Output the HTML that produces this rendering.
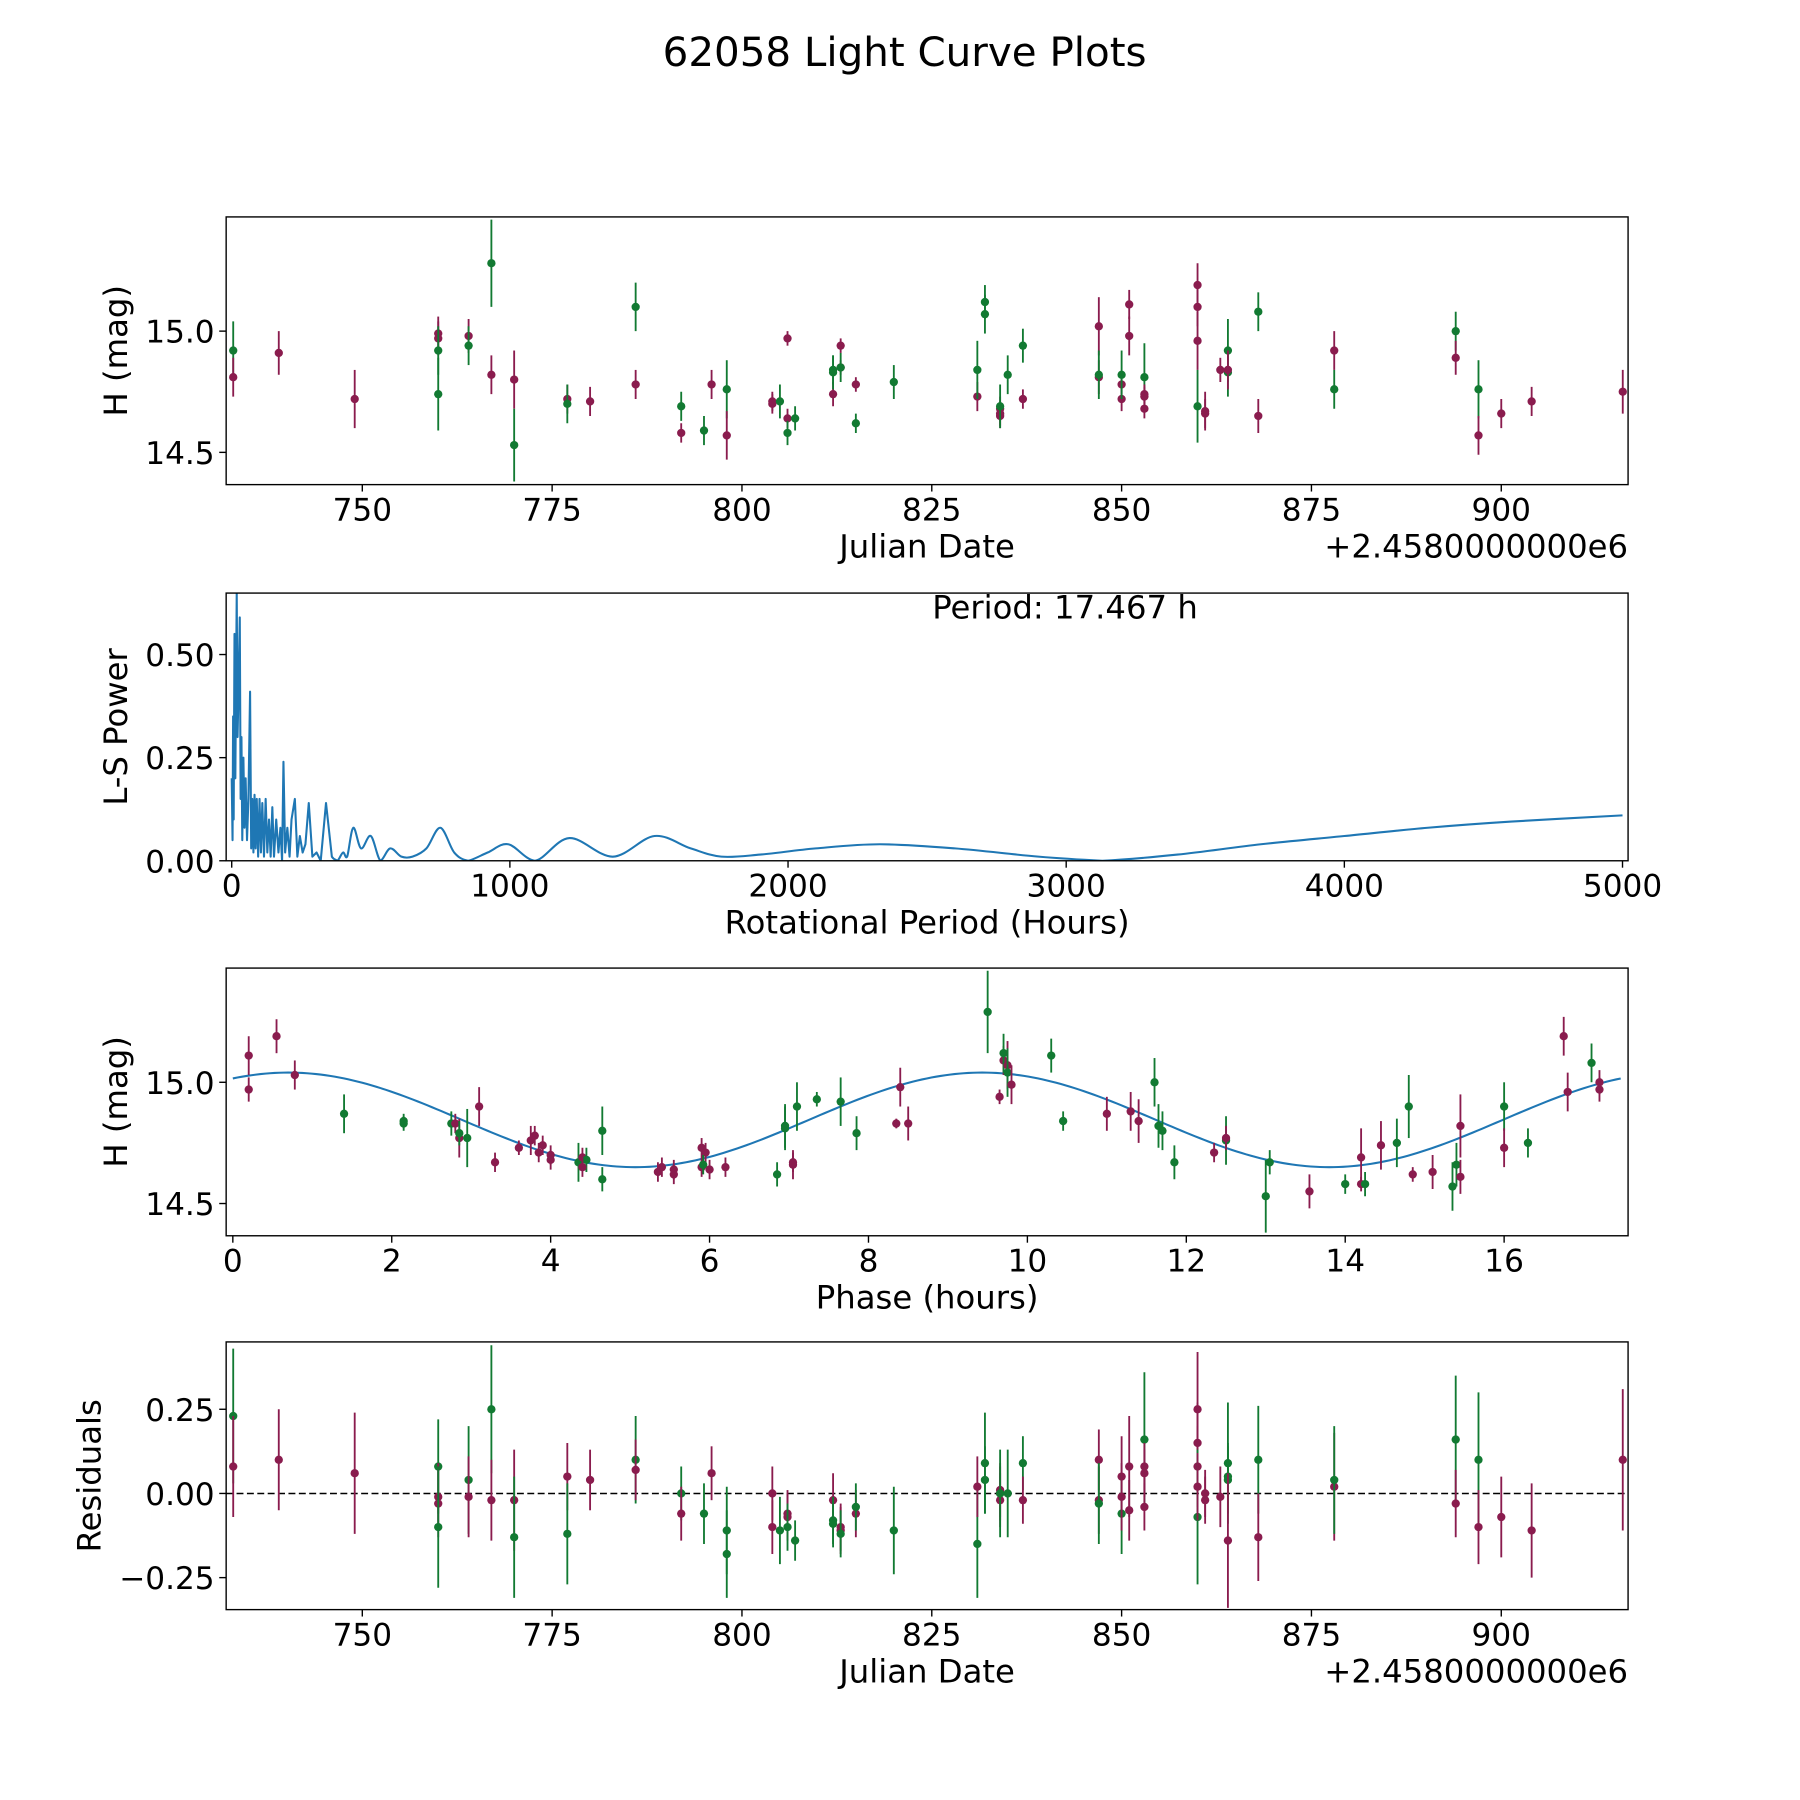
<!DOCTYPE html>
<html><head><meta charset="utf-8"><style>
html,body{margin:0;padding:0;background:#fff}
svg{display:block;font-family:"DejaVu Sans","Liberation Sans",sans-serif}
</style></head><body>
<svg id="chart" width="1800" height="1800" viewBox="0 0 1560 1560" xmlns="http://www.w3.org/2000/svg">
<rect width="1560" height="1560" fill="#fff"/>
<text x="784" y="57" font-size="35" text-anchor="middle">62058 Light Curve Plots</text>
</svg>
<script>
// ---- Light curve data (JD - 2458000) ----
const lcJD  = [733,733,739,749,760,760,760,760,764,764, 767,767,770,770,777,777,780,786,786,792, 792,795,796,798,798,804,804,805,806,806, 806,807,812,812,812,813,813,813,815,815, 820,831,831,832,832,834,834,834,834,835, 837,837,847,847,847,850,850,850,851,851, 853,853,853,853,860,860,860,860,861,861, 863,864,864,864,868,868,878,878,894,894, 897,897,900,904,916];
const lcMag = [14.92,14.81,14.91,14.72,14.99,14.97,14.92,14.74,14.98,14.94, 14.82,15.28,14.8,14.53,14.72,14.7,14.71,15.1,14.78,14.69, 14.58,14.59,14.78,14.76,14.57,14.71,14.7,14.71,14.64,14.58, 14.97,14.64,14.74,14.83,14.84,14.85,14.94,14.85,14.78,14.62, 14.79,14.73,14.84,15.12,15.07,14.68,14.65,14.66,14.69,14.82, 14.94,14.72,15.02,14.81,14.82,14.78,14.72,14.82,15.11,14.98, 14.81,14.74,14.73,14.68,15.19,15.1,14.96,14.69,14.66,14.67, 14.84,14.92,14.83,14.84,15.08,14.65,14.92,14.76,15.0,14.89, 14.76,14.57,14.66,14.71,14.75];
const lcErr = [0.12,0.08,0.09,0.12,0.07,0.07,0.1,0.15,0.07,0.08, 0.08,0.18,0.12,0.15,0.06,0.08,0.06,0.1,0.06,0.06, 0.04,0.06,0.06,0.12,0.1,0.04,0.04,0.07,0.04,0.05, 0.03,0.05,0.05,0.07,0.06,0.03,0.03,0.06,0.03,0.04, 0.07,0.06,0.12,0.07,0.08,0.05,0.05,0.05,0.09,0.08, 0.07,0.04,0.12,0.07,0.1,0.05,0.05,0.1,0.06,0.08, 0.14,0.04,0.04,0.04,0.09,0.08,0.12,0.15,0.06,0.08, 0.05,0.13,0.1,0.08,0.08,0.07,0.08,0.08,0.08,0.07, 0.12,0.08,0.06,0.06,0.09];
const lcCol = "gpppppggpg"+"pgpgpgpgpg"+"pgpgpppgpg"+"pgpggppgpg"+"gpgggpppgg"+"gpppgppgpp"+"gppppppgpp"+"pggpgppggp"+"gpppp";
// ---- Periodogram data ----
const perHours = [0,3,5,7,10,13,18,21,24,29, 32,35,38,42,46,50,55,60,66,70, 74,78,82,86,90,95,100,105,110,116, 122,128,134,140,146,152,160,168,175,181, 186,192,200,208,215,227,236,245,255,265, 277,290,305,320,339,360,380,400,415,437, 465,500,535,570,610,650,700,750,800,850, 920,994,1090,1214,1370,1520,1650,1760,1900,2100, 2330,2600,2900,3130,3400,3700,4000,4300,4600,5000];
const perPower = [0.2,0.05,0.35,0.1,0.55,0.2,0.65,0.3,0.4,0.59, 0.15,0.3,0.05,0.25,0.08,0.2,0.05,0.15,0.41,0.03, 0.15,0.02,0.16,0.03,0.15,0.01,0.15,0.02,0.14,0.01, 0.15,0.02,0.1,0.01,0.13,0.01,0.1,0.02,0.08,0.0, 0.24,0.02,0.08,0.01,0.1,0.15,0.01,0.06,0.02,0.04, 0.14,0.01,0.02,0.0,0.14,0.01,0.0,0.02,0.01,0.08, 0.03,0.06,0.0,0.03,0.01,0.01,0.03,0.08,0.02,0.0, 0.02,0.04,0.0,0.055,0.01,0.06,0.03,0.01,0.015,0.03, 0.04,0.03,0.01,0.0,0.015,0.04,0.06,0.08,0.095,0.11];
// ---- Phased data ----
const phHours = [0.2,0.2,0.55,0.78,1.4,2.15,2.15,2.75,2.8,2.85, 2.85,2.95,3.1,3.3,3.6,3.75,3.8,3.85,3.9,4.0, 4.0,4.35,4.4,4.45,4.4,4.65,4.65,5.35,5.4,5.55, 5.55,5.9,5.95,5.9,5.92,6.0,6.2,6.85,6.95,6.95, 7.05,7.05,7.1,7.35,7.65,7.85,8.35,8.4,8.5,9.5, 9.65,9.7,9.7,9.75,9.75,9.8,10.3,10.45,11.0,11.3, 11.4,11.6,11.65,11.7,11.85,12.35,12.5,12.5,13.0,13.05, 13.55,14.0,14.2,14.2,14.25,14.45,14.65,14.8,14.85,15.1, 15.35,15.4,15.45,15.45,16.0,16.0,16.3,16.75,16.8,17.1, 17.2,17.2];
const phMag = [15.11,14.97,15.19,15.03,14.87,14.84,14.83,14.83,14.83,14.77, 14.79,14.77,14.9,14.67,14.73,14.76,14.78,14.71,14.74,14.7, 14.68,14.67,14.69,14.68,14.65,14.8,14.6,14.63,14.65,14.64, 14.62,14.73,14.71,14.65,14.66,14.64,14.65,14.62,14.81,14.82, 14.67,14.66,14.9,14.93,14.92,14.79,14.83,14.98,14.83,15.29, 14.94,15.09,15.12,15.07,15.04,14.99,15.11,14.84,14.87,14.88, 14.84,15.0,14.82,14.8,14.67,14.71,14.76,14.77,14.53,14.67, 14.55,14.58,14.58,14.69,14.58,14.74,14.75,14.9,14.62,14.63, 14.57,14.66,14.61,14.82,14.9,14.73,14.75,15.19,14.96,15.08, 15.0,14.97];
const phErr = [0.08,0.05,0.07,0.06,0.08,0.03,0.03,0.05,0.04,0.08, 0.05,0.12,0.08,0.04,0.03,0.06,0.04,0.04,0.04,0.04, 0.04,0.08,0.04,0.05,0.04,0.1,0.05,0.04,0.04,0.04, 0.04,0.04,0.04,0.04,0.04,0.04,0.04,0.05,0.09,0.09, 0.04,0.06,0.1,0.03,0.1,0.07,0.02,0.08,0.07,0.17, 0.03,0.06,0.08,0.1,0.1,0.08,0.07,0.04,0.07,0.08, 0.09,0.1,0.09,0.08,0.07,0.04,0.1,0.05,0.15,0.05, 0.07,0.04,0.03,0.12,0.05,0.1,0.1,0.13,0.03,0.07, 0.1,0.09,0.07,0.13,0.1,0.08,0.06,0.08,0.08,0.08, 0.05,0.05];
const phCol = "ppppggggpp"+"ggpppppppp"+"pgpgpggppp"+"ppppgppggg"+"ppggggpppg"+"ppgpgpggpp"+"pggggpgpgg"+"pgppgpggpp"+"ggppgpgppg"+"pp";
// model: mean, amplitude, phase of peak (h), half-period (h)
const modelParams = [14.845, 0.195, 0.7, 8.7335];
// ---- Residuals ----
const rsJD = [733,733,739,749,760,760,760,760,764,764, 767,767,770,770,777,777,780,786,786,792, 792,795,796,798,798,804,804,805,806,806, 806,807,812,812,812,813,813,813,815,815, 820,831,831,832,832,834,834,834,834,835, 837,837,847,847,847,850,850,850,851,851, 853,853,853,853,860,860,860,860,860,861, 861,863,864,864,864,864,868,868,878,878, 894,894,897,897,900,904,916];
const rsVal = [0.23,0.08,0.1,0.06,0.08,-0.01,-0.03,-0.1,0.04,-0.01, 0.25,-0.02,-0.02,-0.13,0.05,-0.12,0.04,0.1,0.07,0.0, -0.06,-0.06,0.06,-0.11,-0.18,-0.1,0.0,-0.11,-0.07,-0.06, -0.1,-0.14,-0.02,-0.08,-0.09,-0.11,-0.1,-0.12,-0.06,-0.04, -0.11,-0.15,0.02,0.09,0.04,0.0,-0.02,0.01,0.0,0.0, 0.09,-0.02,0.1,-0.02,-0.03,0.05,-0.06,-0.01,0.08,-0.05, 0.16,0.08,0.06,-0.04,0.25,0.15,0.08,-0.07,0.02,0.0, -0.02,-0.01,0.09,0.05,0.04,-0.14,0.1,-0.13,0.02,0.04, 0.16,-0.03,0.1,-0.1,-0.07,-0.11,0.1];
const rsErr = [0.2,0.15,0.15,0.18,0.14,0.1,0.1,0.18,0.16,0.12, 0.19,0.12,0.15,0.18,0.1,0.15,0.09,0.13,0.09,0.08, 0.08,0.09,0.08,0.13,0.13,0.08,0.08,0.1,0.07,0.07, 0.07,0.06,0.08,0.07,0.07,0.07,0.07,0.07,0.07,0.07, 0.13,0.16,0.09,0.15,0.1,0.08,0.08,0.08,0.13,0.13, 0.08,0.07,0.09,0.1,0.12,0.12,0.12,0.1,0.15,0.09, 0.2,0.07,0.07,0.07,0.17,0.12,0.12,0.2,0.1,0.07, 0.07,0.09,0.18,0.1,0.1,0.2,0.16,0.13,0.16,0.16, 0.19,0.1,0.2,0.11,0.12,0.14,0.21];
const rsCol = "gpppgppggp"+"gppgpgpgpg"+"pgpggppgpp"+"ggpggppgpg"+"ggpggpppgg"+"gpppgpgppp"+"gppppppgpp"+"ppgggpgppg"+"gpgpppp";

const NS="http://www.w3.org/2000/svg";
const svg=document.getElementById('chart');
const GREEN="#127a32", PURPLE="#8a1c4e", BLUE="#1f77b4";
function el(tag,attrs,parent){const e=document.createElementNS(NS,tag);for(const k in attrs)e.setAttribute(k,attrs[k]);(parent||svg).appendChild(e);return e;}
function txt(s,attrs,parent){const e=el('text',attrs,parent);e.textContent=s;return e;}

function panel(name,top,x0,x1,y0,y1,xticks,xfmt,yticks,yfmt,xlabel,ylabel,offset){
  const L=196,R=1411,T=top,B=top+232;
  const g=el('g',{});
  
  
  const sx=v=>L+(v-x0)/(x1-x0)*(R-L);
  const sy=v=>B-(v-y0)/(y1-y0)*(B-T);
  xticks.forEach(t=>{const x=sx(t);
    el('line',{x1:x,x2:x,y1:B,y2:B+6,stroke:'#000','stroke-width':1.2},g);
    const lb=txt(xfmt(t),{x:x,y:B+31,'font-size':27,'text-anchor':'middle'},g);
    
    });
  yticks.forEach(t=>{const y=sy(t);
    el('line',{x1:L-6,x2:L,y1:y,y2:y,stroke:'#000','stroke-width':1.2},g);
    const lb=txt(yfmt(t),{x:L-10,y:y+10,'font-size':27,'text-anchor':'end'},g);
    
    });
  const xl=txt(xlabel,{x:(L+R)/2,y:B+63,'font-size':28,'text-anchor':'middle'},g);
  
  
  const yl=txt(ylabel,{x:0,y:0,'font-size':28,'text-anchor':'middle',transform:`translate(${ylabel==='Residuals'?87:110},${(T+B)/2}) rotate(-90)`},g);
  
  
  if(offset){const o=txt(offset,{x:R,y:B+63,'font-size':28,'text-anchor':'end'},g);
    
    }
  const clipId='clip-'+name;
  const cp=el('clipPath',{id:clipId},g);el('rect',{x:L,y:T,width:R-L,height:B-T},cp);
  const plot=el('g',{'clip-path':`url(#${clipId})`},g);
  return {g,plot,sx,sy,frame:()=>el('rect',{x:L,y:T,width:R-L,height:B-T,fill:'none',stroke:'#000','stroke-width':1.2},g)};
}
function errpoints(p,xs,ys,es,cols,nm){
  xs.forEach((x,i)=>{const c=cols[i]==='g'?GREEN:PURPLE;
    const X=p.sx(x);
    const ln=el('line',{x1:X,x2:X,y1:p.sy(ys[i]-es[i]),y2:p.sy(ys[i]+es[i]),stroke:c,'stroke-width':1.6},p.plot);
    
    
    const pt=el('circle',{cx:X,cy:p.sy(ys[i]),r:3.6,fill:c},p.plot);
    
    });
}
const jdTicks=[750,775,800,825,850,875,900];
// Panel 1
const p1=panel('light-curve-panel',188,732.07,916.7,14.367,15.471,jdTicks,String,[14.5,15.0],v=>v.toFixed(1),'Julian Date','H (mag)','+2.4580000000e6');
errpoints(p1,lcJD,lcMag,lcErr,lcCol,'light-curve');p1.frame();
// Panel 2
const p2=panel('periodogram-panel',514,-20,5020,0,0.649,[0,1000,2000,3000,4000,5000],String,[0,0.25,0.5],v=>v.toFixed(2),'Rotational Period (Hours)','L-S Power');
const P=perHours.map((h,i)=>[p2.sx(h),p2.sy(perPower[i])]);
let pd='M'+P[0][0].toFixed(2)+' '+P[0][1].toFixed(2);
for(let i=1;i<P.length;i++){
  if(perHours[i]<=360){pd+=' L'+P[i][0].toFixed(2)+' '+P[i][1].toFixed(2);}
  else{const a=P[i-2]||P[i-1],b=P[i-1],c=P[i],d=P[i+1]||P[i];
    const c1=[b[0]+(c[0]-a[0])/6,b[1]+(c[1]-a[1])/6],c2=[c[0]-(d[0]-b[0])/6,c[1]-(d[1]-b[1])/6];
    pd+=` C${c1[0].toFixed(2)} ${Math.min(c1[1],745).toFixed(2)} ${c2[0].toFixed(2)} ${Math.min(c2[1],745).toFixed(2)} ${c[0].toFixed(2)} ${c[1].toFixed(2)}`;}
}
const pl=el('path',{d:pd,fill:'none',stroke:BLUE,'stroke-width':1.8,'stroke-linejoin':'round'},p2.plot);


p2.frame();
const pt=txt('Period: 17.467 h',{x:923,y:536,'font-size':28,'text-anchor':'middle'});


// Panel 3
const p3=panel('phase-panel',839,-0.084,17.56,14.367,15.471,[0,2,4,6,8,10,12,14,16],String,[14.5,15.0],v=>v.toFixed(1),'Phase (hours)','H (mag)');
let md='';
for(let i=0;i<=300;i++){const ph=i/300*17.467;const m=modelParams[0]+modelParams[1]*Math.cos(2*Math.PI*(ph-modelParams[2])/modelParams[3]);md+=(i?'L':'M')+p3.sx(ph).toFixed(2)+' '+p3.sy(m).toFixed(2)+' ';}
const ml=el('path',{d:md,fill:'none',stroke:BLUE,'stroke-width':1.8},p3.plot);


errpoints(p3,phHours,phMag,phErr,phCol,'phased');p3.frame();
// Panel 4
const p4=panel('residuals-panel',1163,732.07,916.7,-0.345,0.45,jdTicks,String,[-0.25,0,0.25],v=>(v<0?'\u2212':'')+Math.abs(v).toFixed(2),'Julian Date','Residuals','+2.4580000000e6');
const zl=el('line',{x1:196,x2:1411,y1:p4.sy(0),y2:p4.sy(0),stroke:'#000','stroke-width':1.3,'stroke-dasharray':'6,3'},p4.plot);


errpoints(p4,rsJD,rsVal,rsErr,rsCol,'residual');p4.frame();
</script>
</body></html>
